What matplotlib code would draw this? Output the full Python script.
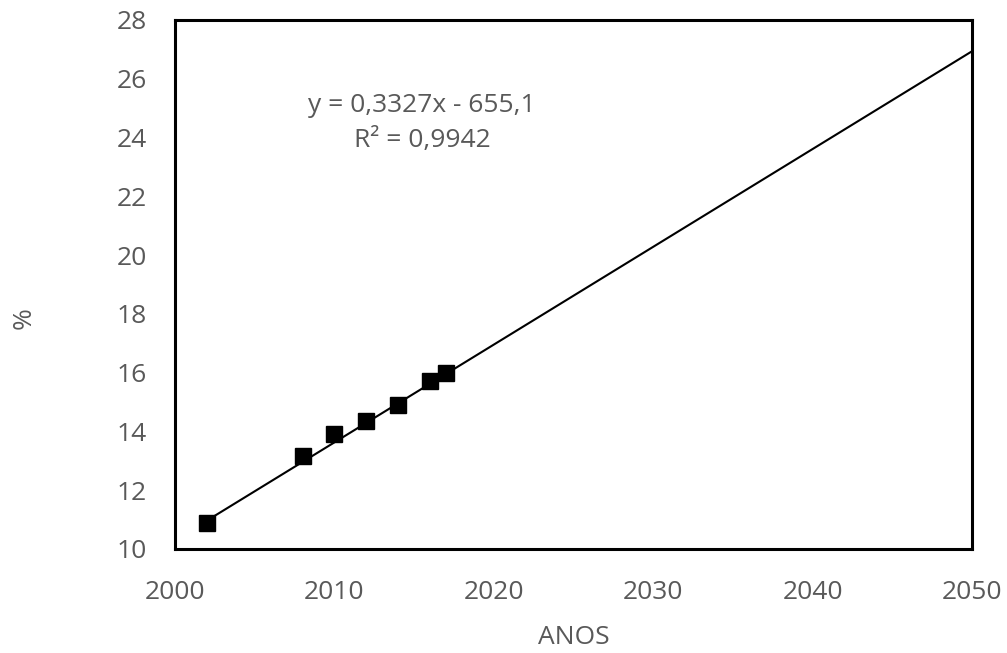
import matplotlib
matplotlib.use("Agg")
import matplotlib.pyplot as plt
import numpy as np

years = [2002, 2008, 2010, 2012, 2014, 2016, 2017]
values = [10.9, 13.15, 13.9, 14.35, 14.9, 15.7, 16.0]
slope = 0.3327
intercept = -655.1
r2 = 0.9942
trend_x = [2002, 2050]
x_ticks = [2000, 2010, 2020, 2030, 2040, 2050]
y_ticks = [10, 12, 14, 16, 18, 20, 22, 24, 26, 28]

plt.rcParams['font.family'] = ['Open Sans', 'DejaVu Sans']
gray = '#595959'

fig = plt.figure(figsize=(10.07, 6.53), dpi=100)
ax = fig.add_axes([0.1738, 0.1593, 0.7914, 0.8101])

tx = np.array(trend_x, dtype=float)
ax.plot(tx, slope * tx + intercept, color='black', lw=1.5, zorder=2)
ax.plot(years, values, linestyle='none', marker='s', markersize=12,
        color='black', zorder=3)

ax.set_xlim(2000, 2050)
ax.set_ylim(10, 28)
ax.set_xticks(x_ticks)
ax.set_yticks(y_ticks)
ax.tick_params(length=0, labelsize=19, colors=gray)
ax.tick_params(axis='x', pad=22)
ax.tick_params(axis='y', pad=20)
for s in ax.spines.values():
    s.set_linewidth(2.2)
    s.set_color('black')

ax.set_xlabel('ANOS', fontsize=19, color=gray, labelpad=15)
fig.text(24 / 1007, 1 - 318 / 653, '%', rotation=90, ha='center', va='center',
         fontsize=19, color=gray)

eq = f"y = {slope:.4f}x - {abs(intercept):.1f}".replace('.', ',')
rr = f"R² = {r2:.4f}".replace('.', ',')
ax.text(2015.5, 25.1, eq, ha='center', va='center', fontsize=19, color=gray)
ax.text(2015.5, 23.9, rr, ha='center', va='center', fontsize=19, color=gray)

fig.savefig('out.png', dpi=100)
